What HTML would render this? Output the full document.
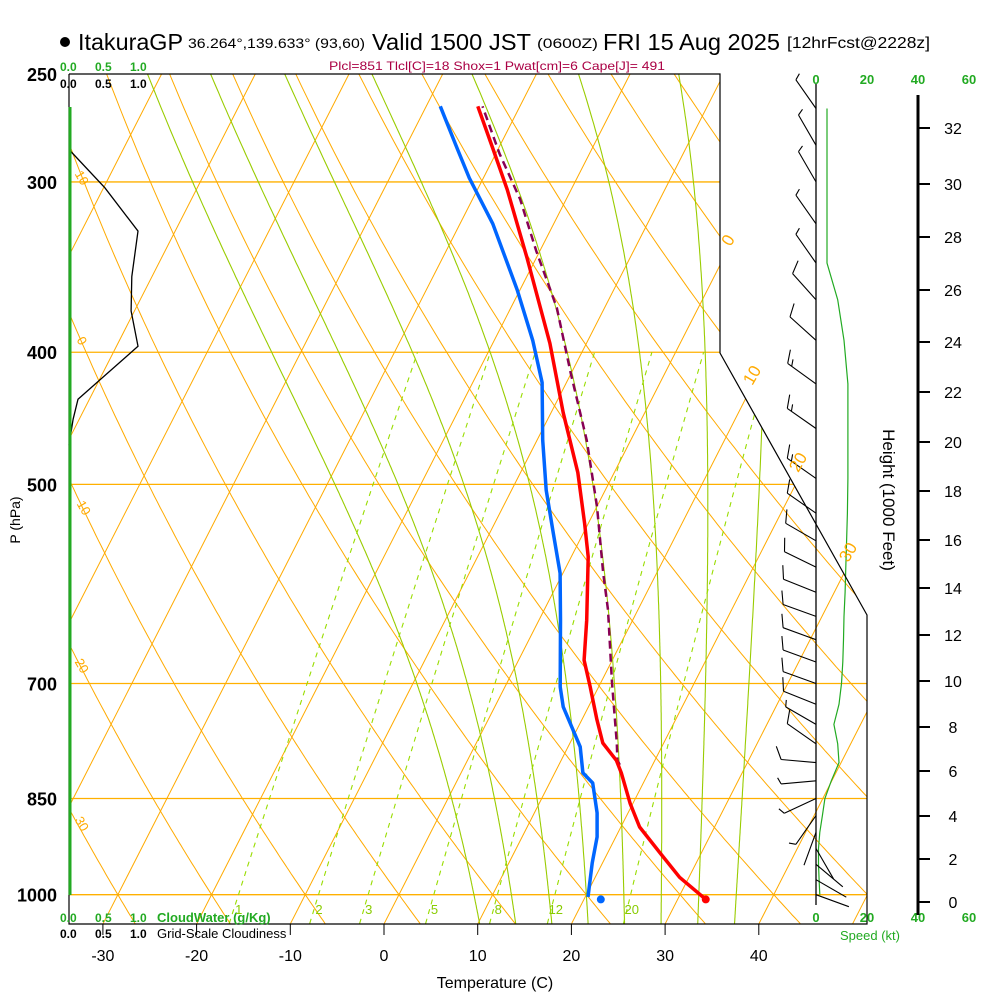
<!DOCTYPE html>
<html><head><meta charset="utf-8"><title>Skew-T ItakuraGP</title>
<style>
html,body{margin:0;padding:0;background:#fff;}
svg{display:block;font-family:"Liberation Sans",Arial,sans-serif;}
</style></head>
<body>
<svg id="chart" width="1000" height="1000" viewBox="0 0 1000 1000" xmlns="http://www.w3.org/2000/svg">
<defs><clipPath id="plotclip"><polygon points="69,74 720,74 720,353 867,615 867,924 69,924"/></clipPath></defs>
<rect x="0" y="0" width="1000" height="1000" fill="#fff"/>
<g id="grid" clip-path="url(#plotclip)"></g>
<g id="prof"></g>
<g id="wind"></g>
<polyline points="69,74 720,74 720,353 867,615 867,924 69,924 69,74" fill="none" stroke="#000" stroke-width="1.2"/>
<line x1="70" y1="107" x2="70" y2="895" stroke="#22aa22" stroke-width="3"/>
<g>
<circle cx="65" cy="42" r="5" fill="#000"/>
<text x="78" y="50" font-size="23" textLength="105" lengthAdjust="spacingAndGlyphs">ItakuraGP</text>
<text x="188" y="48" font-size="14" textLength="177" lengthAdjust="spacingAndGlyphs">36.264°,139.633° (93,60)</text>
<text x="372" y="50" font-size="23" textLength="159" lengthAdjust="spacingAndGlyphs">Valid 1500 JST</text>
<text x="537" y="48" font-size="14" textLength="61" lengthAdjust="spacingAndGlyphs">(0600Z)</text>
<text x="603" y="50" font-size="23" textLength="177" lengthAdjust="spacingAndGlyphs">FRI 15 Aug 2025</text>
<text x="787" y="48" font-size="16" textLength="143" lengthAdjust="spacingAndGlyphs">[12hrFcst@2228z]</text>
<text x="497" y="70" font-size="12" fill="#aa0044" text-anchor="middle" textLength="336" lengthAdjust="spacingAndGlyphs">Plcl=851 Tlcl[C]=18 Shox=1 Pwat[cm]=6 Cape[J]= 491</text>
</g>
<g font-size="12" font-weight="bold">
<text x="60" y="71" fill="#22aa22">0.0</text>
<text x="95" y="71" fill="#22aa22">0.5</text>
<text x="130" y="71" fill="#22aa22">1.0</text>
<text x="60" y="88" fill="#000">0.0</text>
<text x="95" y="88" fill="#000">0.5</text>
<text x="130" y="88" fill="#000">1.0</text>
<text x="60" y="922" fill="#22aa22">0.0</text>
<text x="95" y="922" fill="#22aa22">0.5</text>
<text x="130" y="922" fill="#22aa22">1.0</text>
<text x="157" y="922" fill="#22aa22" font-size="13">CloudWater (g/Kg)</text>
<text x="60" y="938" fill="#000">0.0</text>
<text x="95" y="938" fill="#000">0.5</text>
<text x="130" y="938" fill="#000">1.0</text>
<text x="157" y="938" fill="#000" font-size="13" font-weight="normal">Grid-Scale Cloudiness</text>
</g>
<g id="axes"></g>
<text x="495" y="988" font-size="16" text-anchor="middle">Temperature (C)</text>
<text transform="translate(20,520) rotate(-90)" font-size="14" text-anchor="middle">P (hPa)</text>
<text transform="translate(883,500) rotate(90)" font-size="17" text-anchor="middle">Height (1000 Feet)</text>
<text x="870" y="940" font-size="13" fill="#22aa22" text-anchor="middle">Speed (kt)</text>
</svg>
<script>
const tempP = [1008,971,932,892,857,814,797,774,744,704,673,629,565,534,490,443,394,341,304,284,264];
const tempT = [33.0,29.0,25.6,22.0,19.7,17.1,15.9,13.5,11.6,9.1,7.0,5.1,1.8,-0.4,-3.9,-8.7,-13.9,-21.0,-26.8,-30.5,-34.5];
const dewP = [1004,948,907,871,828,814,779,728,704,629,581,543,505,464,421,392,360,322,298,284,264];
const dewT = [20.3,18.9,18.0,16.7,14.6,13.0,11.3,7.3,5.9,2.3,-0.3,-3.2,-6.3,-9.4,-12.6,-15.9,-20.3,-26.5,-31.5,-34.3,-38.5];
const parcelP = [803,797,774,699,618,581,519,464,414,371,337,309,286,264];
const parcelT = [16.5,16.0,15.0,11.2,6.8,4.3,0.0,-4.7,-10.1,-15.1,-20.4,-24.9,-29.6,-34.0];
const sfcTemp = 33.0, sfcDew = 21.8, sfcP = 1008;
const barbP = [265,282,300,322,344,366,392,422,455,495,525,550,575,600,625,650,675,700,725,750,775,800,825,850,875,900,925,950,975,1000];
const barbDir = [325,330,330,325,325,318,312,306,305,305,305,300,296,292,290,290,290,290,292,300,305,275,265,245,215,200,150,130,120,110];
const barbSpd = [4.3,4.3,4.3,4.3,4.3,8.5,11,12.5,12.5,12.5,12.3,12,11.7,11.4,11,10.8,10.5,10,9,7,8.5,9,6,3.5,2.5,1.5,1,1,1.2,1.5];
const cloudP = [284,303,326,352,373,396,433,448,468];
const cloudFrac = [0,0.52,1.0,0.91,0.9,1.0,0.13,0.06,0];
const pressLabels = [250,300,400,500,700,850,1000];
const tempTicks = [-30,-20,-10,0,10,20,30,40];
const heightTicks = [0,2,4,6,8,10,12,14,16,18,20,22,24,26,28,30,32];
const heightTickY = [902,859,816,771,727,681,635,588,540,491,442,392,342,290,237,184,128];
const mixRatios = [1,2,3,5,8,12,20];
const moistStarts = [8,12,16,20,24,28,32,36];
const speedTicks = [0,20,40,60];

const NS='http://www.w3.org/2000/svg';
const Y0=74, KY=592, P0=250, X0=384, KT=9.37, SK=0.51, YB=924;
function yP(p){return Y0+KY*Math.log(p/P0);}
function xT(T,p){return X0+KT*T+SK*(YB-yP(p));}
function xSpd(s){return 816+s*2.55;}
function xCloud(f){return 69+f*69;}
function mk(tag,attrs,parent){const e=document.createElementNS(NS,tag);for(const k in attrs)e.setAttribute(k,attrs[k]);parent.appendChild(e);return e;}
const grid=document.getElementById('grid'), prof=document.getElementById('prof'), wind=document.getElementById('wind'), axes=document.getElementById('axes');
const svgRoot=document.getElementById('chart');
function pathFrom(pts){return pts.map((q,i)=>(i?'L':'M')+q[0].toFixed(1)+','+q[1].toFixed(1)).join('');}

[300,400,500,700,850,1000].forEach(p=>{
  const l=mk('line',{x1:69,x2:870,y1:yP(p),y2:yP(p),stroke:'#ffb000','stroke-width':1.3},grid);
  
  
});
for(let T=-130;T<=60;T+=10){
  const l=mk('line',{x1:xT(T,1050),y1:yP(1050),x2:xT(T,250),y2:yP(250),stroke:'#ffaa00','stroke-width':1},grid);
  
  
}
for(let th=-40;th<=130;th+=10){
  const pts=[];
  for(let p=1050;p>=250;p-=5){const T=(th+273.15)*Math.pow(p/1000,0.2857)-273.15;pts.push([xT(T,p),yP(p)]);}
  const e=mk('path',{d:pathFrom(pts),fill:'none',stroke:'#ffaa00','stroke-width':1},grid);
  
  
}
function es(Tc){return 6.112*Math.exp(17.67*Tc/(Tc+243.5));}
function dTdp(Tc,p){const T=Tc+273.15;const e=es(Tc);const rs=0.622*e/(p-e);
  return (287*T+2.5e6*rs)/(p*(1005+2.5e6*2.5e6*rs*0.622/(287*T*T)));}
moistStarts.forEach(t0=>{
  const up=[];let T=t0;
  for(let p=1000;p>=250;p-=2){up.push([xT(T,p),yP(p)]);T-=dTdp(T,p)*2;}
  const dn=[];T=t0;
  for(let p=1000;p<=1052;p+=2){dn.push([xT(T,p),yP(p)]);T+=dTdp(T,p)*2;}
  const pts=dn.reverse().concat(up);
  const e=mk('path',{d:pathFrom(pts),fill:'none',stroke:'#99cc00','stroke-width':1.1},grid);
  
  
});
mixRatios.forEach(w=>{
  const pts=[];
  for(let p=1050;p>=400;p-=10){const e=w*p/(622+w);const L=Math.log(e/6.112);const Td=243.5*L/(17.67-L);pts.push([xT(Td,p),yP(p)]);}
  const e=mk('path',{d:pathFrom(pts),fill:'none',stroke:'#99dd00','stroke-width':1.1,'stroke-dasharray':'5,5'},grid);
  
  
  const pl=1020;const ev=w*pl/(622+w);const L=Math.log(ev/6.112);const Td=243.5*L/(17.67-L);
  const t=mk('text',{x:xT(Td,pl)+4,y:914,'font-size':13,fill:'#88cc00','text-anchor':'middle'},svgRoot);
  t.textContent=String(w);
  
  
});
[['0',733,243],['10',757,378],['20',803,465],['30',853,555]].forEach(a=>{
  const t=mk('text',{transform:`translate(${a[1]},${a[2]}) rotate(-60)`,'font-size':17,fill:'#ffaa00','text-anchor':'middle'},svgRoot);
  t.textContent=a[0];
  
  
});
[['10',78,180],['0',78,343],['10',80,510],['20',78,668],['30',78,826]].forEach(a=>{
  const t=mk('text',{transform:`translate(${a[1]},${a[2]}) rotate(60)`,'font-size':13,fill:'#ffaa00','text-anchor':'middle'},svgRoot);
  t.textContent=a[0];
  
  
});

function profPath(P,T,col,w,dash,name){
  const pts=P.map((p,i)=>[xT(T[i],p),yP(p)]);
  const attrs={d:pathFrom(pts),fill:'none',stroke:col,'stroke-width':w,'stroke-linejoin':'round'};
  if(dash)attrs['stroke-dasharray']=dash;
  const e=mk('path',attrs,prof);
  
  
}
profPath(parcelP,parcelT,'#880055',2.5,'8,5','parcel-line');
profPath(dewP,dewT,'#0066ff',3.5,null,'dewpoint-line');
profPath(tempP,tempT,'#ff0000',3.5,null,'temperature-line');
const d1=mk('circle',{cx:xT(sfcTemp,sfcP),cy:yP(sfcP),r:4,fill:'#ff0000'},prof);


const d2=mk('circle',{cx:xT(sfcDew,sfcP),cy:yP(sfcP),r:4,fill:'#0066ff'},prof);


const cpts=cloudP.map((p,i)=>[xCloud(cloudFrac[i]),yP(p)]);
const cl=mk('path',{d:pathFrom(cpts),fill:'none',stroke:'#000','stroke-width':1.3},prof);



const staff=mk('line',{x1:816,y1:84,x2:816,y2:905,stroke:'#000','stroke-width':1.3},wind);


const spts=barbP.map((p,i)=>[xSpd(barbSpd[i]),yP(p)]);
const sp=mk('path',{d:pathFrom(spts),fill:'none',stroke:'#22aa22','stroke-width':1.2},wind);


barbP.forEach((p,i)=>{
  const bx=816, by=yP(p), r=barbDir[i]*Math.PI/180, L=35;
  const ux=Math.sin(r), uy=-Math.cos(r);
  const tx=bx+ux*L, ty=by+uy*L;
  let d=`M${bx},${by.toFixed(1)}L${tx.toFixed(1)},${ty.toFixed(1)}`;
  const q=(barbDir[i]+65)*Math.PI/180, vx=Math.sin(q), vy=-Math.cos(q);
  let n=Math.round(barbSpd[i]/5), k=0;
  while(n>=2){const sx=tx-ux*k*5, sy=ty-uy*k*5;d+=`M${sx.toFixed(1)},${sy.toFixed(1)}l${(vx*14).toFixed(1)},${(vy*14).toFixed(1)}`;n-=2;k++;}
  if(n===1){const sx=tx-ux*(k*5), sy=ty-uy*(k*5);d+=`M${sx.toFixed(1)},${sy.toFixed(1)}l${(vx*7).toFixed(1)},${(vy*7).toFixed(1)}`;}
  const b=mk('path',{d:d,fill:'none',stroke:'#000','stroke-width':1.1},wind);
  
  
});
speedTicks.forEach(s=>{
  [84,922].forEach(y=>{
    const t=mk('text',{x:xSpd(s),y:y,'font-size':13,'font-weight':'bold',fill:'#22aa22','text-anchor':'middle'},axes);
    t.textContent=String(s);
    
    
  });
});
const ha=mk('line',{x1:918,y1:95,x2:918,y2:915,stroke:'#000','stroke-width':3},axes);


heightTicks.forEach((h,i)=>{
  const tk=mk('line',{x1:918,x2:930,y1:heightTickY[i],y2:heightTickY[i],stroke:'#000','stroke-width':2},axes);
  
  
  const t=mk('text',{x:953,y:heightTickY[i]+6,'font-size':16,'text-anchor':'middle'},axes);
  t.textContent=String(h);
  
  
});
pressLabels.forEach(p=>{
  const t=mk('text',{x:57,y:yP(p)+7,'font-size':18,'font-weight':'bold','text-anchor':'end'},axes);
  t.textContent=String(p);
  
  
});
tempTicks.forEach(T=>{
  const x=X0+KT*T;
  const tk=mk('line',{x1:x,x2:x,y1:924,y2:935,stroke:'#000','stroke-width':1},axes);
  
  
  const t=mk('text',{x:x,y:961,'font-size':16,'text-anchor':'middle'},axes);
  t.textContent=String(T);
  
  
});
</script>
</body></html>
